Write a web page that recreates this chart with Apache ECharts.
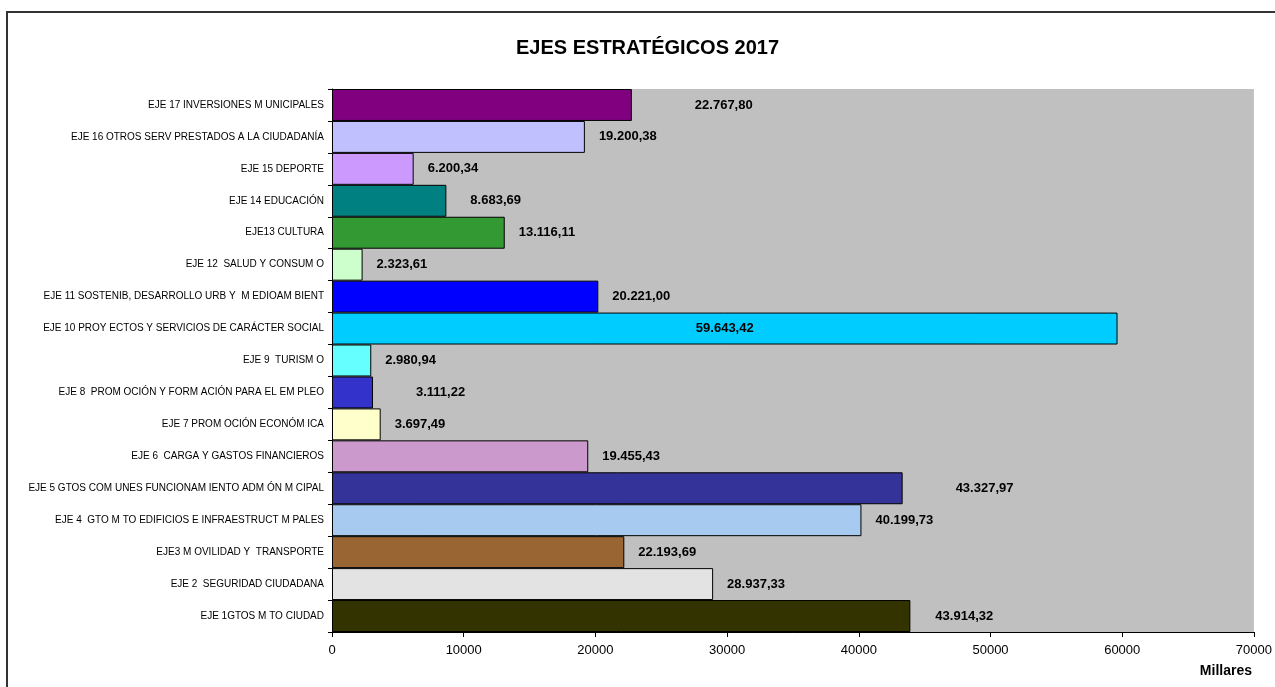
<!DOCTYPE html>
<html>
<head>
<meta charset="utf-8">
<script src="https://cdn.jsdelivr.net/npm/echarts@6/dist/echarts.min.js"></script>
<style>
  html, body { margin: 0; padding: 0; background: #fff; }
  #chart { width: 1275px; height: 687px; }
</style>
</head>
<body>
<div id="chart"></div>
<script>
// categories bottom -> top (EJE 1 first)
const categories = [
  "EJE 1GTOS M TO CIUDAD",
  "EJE 2  SEGURIDAD CIUDADANA",
  "EJE3 M OVILIDAD Y  TRANSPORTE",
  "EJE 4  GTO M TO EDIFICIOS E INFRAESTRUCT M PALES",
  "EJE 5 GTOS COM UNES FUNCIONAM IENTO ADM ÓN M CIPAL",
  "EJE 6  CARGA Y GASTOS FINANCIEROS",
  "EJE 7 PROM OCIÓN ECONÓM ICA",
  "EJE 8  PROM OCIÓN Y FORM ACIÓN PARA EL EM PLEO",
  "EJE 9  TURISM O",
  "EJE 10 PROY ECTOS Y SERVICIOS DE CARÁCTER SOCIAL",
  "EJE 11 SOSTENIB, DESARROLLO URB Y  M EDIOAM BIENT",
  "EJE 12  SALUD Y CONSUM O",
  "EJE13 CULTURA",
  "EJE 14 EDUCACIÓN",
  "EJE 15 DEPORTE",
  "EJE 16 OTROS SERV PRESTADOS A LA CIUDADANÍA",
  "EJE 17 INVERSIONES M UNICIPALES"
];
const values = [
  43914.32, 28937.33, 22193.69, 40199.73, 43327.97, 19455.43, 3697.49, 3111.22,
  2980.94, 59643.42, 20221.00, 2323.61, 13116.11, 8683.69, 6200.34, 19200.38, 22767.80
];
const barColors = [
  "#333300", "#E3E3E3", "#996633", "#A6CAF0", "#333399", "#CC99CC", "#FFFFCC", "#3333CC",
  "#66FFFF", "#00CCFF", "#0000FF", "#CCFFCC", "#339933", "#008080", "#CC99FF", "#C0C0FF", "#800080"
];
const xTicks = [0, 10000, 20000, 30000, 40000, 50000, 60000, 70000];

// label gaps (px) that differ from the default
const labelGap = { 0: 25, 4: 53, 7: 43, 13: 24, 16: 63 };

function fmtEs(v) {
  const parts = v.toFixed(2).split(".");
  const int = parts[0].replace(/\B(?=(\d{3})+(?!\d))/g, ".");
  return int + "," + parts[1];
}

const font = "Liberation Sans, Arial, sans-serif";

const chart = echarts.init(document.getElementById("chart"));
chart.setOption({
  animation: false,
  textStyle: { fontFamily: font },
  title: {
    text: "EJES ESTRATÉGICOS 2017",
    left: 511,
    top: 33,
    textStyle: { fontSize: 20, fontWeight: "bold", color: "#000", fontFamily: font }
  },
  grid: {
    left: 332, right: 19, top: 89, bottom: 55,
    show: true, backgroundColor: "#C0C0C0", borderWidth: 0
  },
  xAxis: {
    type: "value",
    min: xTicks[0],
    max: xTicks[xTicks.length - 1],
    interval: 10000,
    splitLine: { show: false },
    axisLine: { show: true, lineStyle: { color: "#000", width: 1 } },
    axisTick: { show: true, length: 5, lineStyle: { color: "#000" } },
    axisLabel: { color: "#000", fontSize: 13, margin: 12, fontFamily: font, formatter: v => String(v) }
  },
  yAxis: {
    type: "category",
    data: categories,
    axisLine: { show: true, lineStyle: { color: "#000", width: 1 } },
    axisTick: { show: true, length: 4, lineStyle: { color: "#000" } },
    axisLabel: { color: "#000", fontSize: 10, margin: 8, fontFamily: font }
  },
  graphic: [
    {
      type: "rect",
      shape: { x: 7, y: 12, width: 1300, height: 700 },
      style: { fill: "none", stroke: "#333", lineWidth: 2 }
    },
    {
      type: "text",
      right: 23,
      top: 664,
      style: { text: "Millares", font: "bold 14px " + font, fill: "#000" }
    }
  ],
  series: [{
    type: "bar",
    barCategoryGap: "0%",
    data: values.map((v, i) => ({
      value: v,
      itemStyle: { color: barColors[i] },
      label: i === 9
        ? { position: "inside" }
        : { position: "right", distance: labelGap[i] || 14 }
    })),
    itemStyle: { borderColor: "#000", borderWidth: 1 },
    label: {
      show: true,
      color: "#000",
      fontSize: 13,
      fontWeight: "bold",
      fontFamily: font,
      formatter: p => fmtEs(p.value)
    }
  }]
});
</script>
</body>
</html>
